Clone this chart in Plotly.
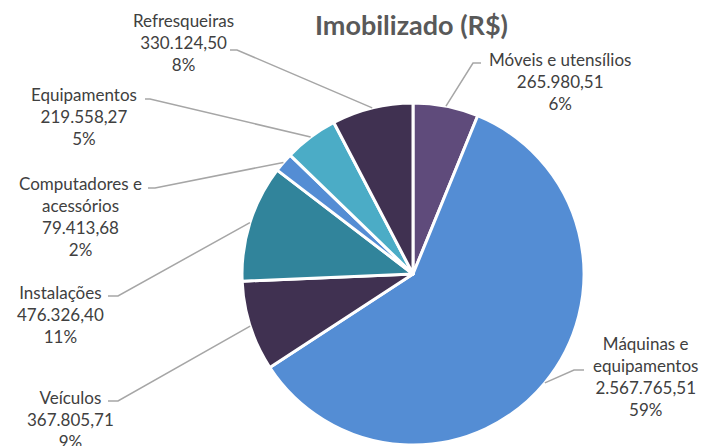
import math
import plotly.graph_objects as go

# ---- data ----
categories = ["Móveis e utensílios", "Máquinas e equipamentos", "Veículos", "Instalações",
              "Computadores e acessórios", "Equipamentos", "Refresqueiras"]
label_names = ["Móveis e utensílios", "Máquinas e<br>equipamentos", "Veículos", "Instalações",
               "Computadores e<br>acessórios", "Equipamentos", "Refresqueiras"]
values = [265980.51, 2567765.51, 367805.71, 476326.40, 79413.68, 219558.27, 330124.50]
pct_labels = ["6%", "59%", "9%", "11%", "2%", "5%", "8%"]
colors = ["#5F4B7B", "#548DD4", "#403151", "#31849B", "#548DD4", "#4BACC6", "#403151"]

W, H = 702, 446
CX, CY, R = 413, 274, 171

def fmt_br(v):
    s = f"{v:,.2f}"
    return s.replace(",", "X").replace(".", ",").replace("X", ".")

def px(x):
    return x / W

def py(y):
    return 1 - y / H

# label layout: (text center x, text center y, elbow x, elbow y, end x)
label_layout = [
    (560, 82, 473, 63, 481),
    (645, 376, 574, 370, 584),
    (70, 419, 118, 401, 108),
    (60, 314, 118, 296, 108),
    (80, 216, 155, 188, 148),
    (84, 117, 150, 99, 145),
    (183, 43, 237, 50, 230),
]

fig = go.Figure(go.Pie(
    labels=categories,
    values=values,
    sort=False,
    direction="clockwise",
    rotation=0,
    marker=dict(colors=colors, line=dict(color="white", width=3)),
    textinfo="none",
    hoverinfo="label+value+percent",
    showlegend=False,
    domain=dict(x=[px(CX - R), px(CX + R)], y=[py(CY + R), py(CY - R)]),
))

total = sum(values)
cum = 0.0
annotations = []
shapes = []
for i, v in enumerate(values):
    mid = (cum + v / 2) / total
    cum += v
    ang = 2 * math.pi * mid
    ax = CX + R * math.sin(ang)
    ay = CY - R * math.cos(ang)
    tx, ty, ex, ey, endx = label_layout[i]
    text = f"{label_names[i]}<br>{fmt_br(v)}<br>{pct_labels[i]}"
    annotations.append(dict(
        x=px(tx), y=py(ty), xref="paper", yref="paper", text=text, showarrow=False,
        xanchor="center", yanchor="middle", align="center",
        font=dict(family="Lato", size=17, color="#404040"),
    ))
    shapes.append(dict(
        type="path", xref="paper", yref="paper",
        path=f"M {px(ax)} {py(ay)} L {px(ex)} {py(ey)} L {px(endx)} {py(ey)}",
        line=dict(color="#A6A6A6", width=1.5),
    ))

annotations.append(dict(
    x=px(412), y=py(24), xref="paper", yref="paper", text="<b>Imobilizado (R$)</b>",
    showarrow=False, xanchor="center", yanchor="middle",
    font=dict(family="Lato", size=27, color="#595959"),
))

fig.update_layout(
    width=W, height=H,
    margin=dict(l=0, r=0, t=0, b=0),
    paper_bgcolor="white",
    plot_bgcolor="white",
    annotations=annotations,
    shapes=shapes,
)

fig.write_html("out.html", config={"displayModeBar": False},
               post_script="document.body.style.margin='0';")
